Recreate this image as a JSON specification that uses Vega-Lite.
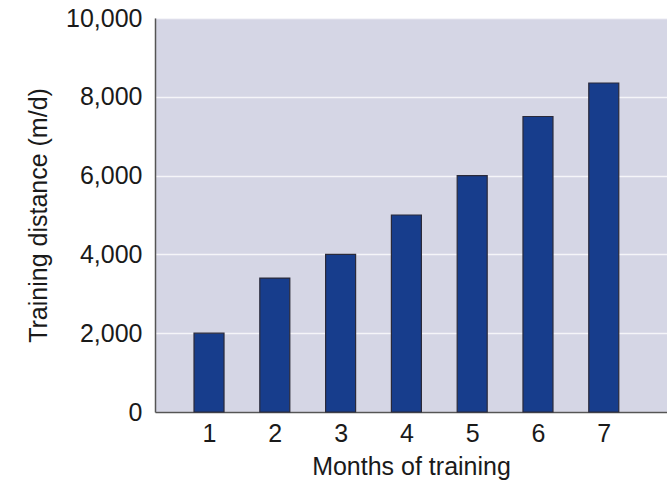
{
  "$schema": "https://vega.github.io/schema/vega-lite/v6.json",
  "autosize": "none",
  "width": 512,
  "height": 394,
  "padding": {"left": 155, "top": 18, "right": 0, "bottom": 75},
  "background": "white",
  "config": {
    "view": {"fill": "#d5d6e5", "stroke": null},
    "font": "Liberation Sans"
  },
  "data": {
    "values": [
      {"month": 1, "distance": 2000},
      {"month": 2, "distance": 3400},
      {"month": 3, "distance": 4000},
      {"month": 4, "distance": 5000},
      {"month": 5, "distance": 6000},
      {"month": 6, "distance": 7500},
      {"month": 7, "distance": 8350}
    ]
  },
  "mark": {"type": "bar", "size": 30, "color": "#173d8c", "stroke": "#2a2a3a", "strokeWidth": 1.2},
  "encoding": {
    "x": {
      "field": "month",
      "type": "quantitative",
      "scale": {"domain": [0.255, 7.885], "nice": false, "zero": false},
      "axis": {
        "values": [1, 2, 3, 4, 5, 6, 7],
        "format": "d",
        "grid": false,
        "ticks": false,
        "domainColor": "#555555",
        "domainWidth": 1.5,
        "labelFontSize": 25,
        "labelColor": "#1a1a1a",
        "labelPadding": 9,
        "labelFlush": false,
        "title": "Months of training",
        "titleFontSize": 25,
        "titleFontWeight": "normal",
        "titleColor": "#1a1a1a",
        "titlePadding": 8
      }
    },
    "y": {
      "field": "distance",
      "type": "quantitative",
      "scale": {"domain": [0, 10000], "nice": false},
      "axis": {
        "values": [0, 2000, 4000, 6000, 8000, 10000],
        "format": ",d",
        "grid": true,
        "gridColor": "#ffffff",
        "gridOpacity": 0.75,
        "gridWidth": 1.5,
        "ticks": false,
        "domainColor": "#555555",
        "domainWidth": 1.5,
        "labelFontSize": 25,
        "labelColor": "#1a1a1a",
        "labelPadding": 13,
        "labelFlush": false,
        "title": "Training distance (m/d)",
        "titleFontSize": 25,
        "titleFontWeight": "normal",
        "titleColor": "#1a1a1a",
        "titlePadding": 14
      }
    }
  }
}
